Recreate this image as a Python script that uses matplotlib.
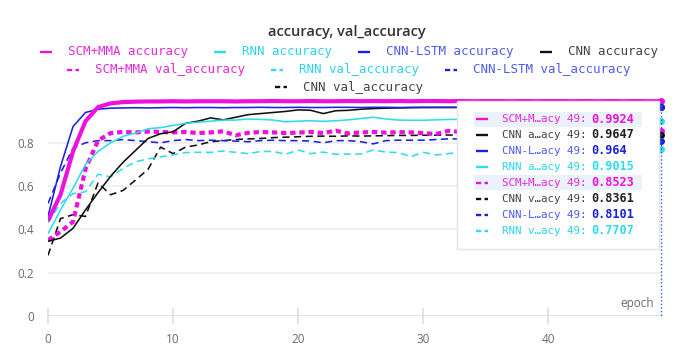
import matplotlib
matplotlib.use("Agg")
import matplotlib.pyplot as plt
from matplotlib.lines import Line2D
from matplotlib.patches import Rectangle

W, H = 686, 352

# ---- data ----
epochs = list(range(50))

scm_acc = [0.44, 0.56, 0.76, 0.90, 0.965, 0.982, 0.988, 0.990, 0.991, 0.991,
           0.992, 0.991, 0.992, 0.992, 0.992, 0.991, 0.992, 0.992, 0.993, 0.992,
           0.992, 0.993, 0.992, 0.992, 0.993, 0.992, 0.993, 0.992, 0.993, 0.992,
           0.993, 0.993, 0.992, 0.993, 0.992, 0.993, 0.993, 0.992, 0.993, 0.992,
           0.993, 0.993, 0.992, 0.993, 0.992, 0.993, 0.992, 0.993, 0.992, 0.9924]
lstm_acc = [0.46, 0.69, 0.875, 0.94, 0.955, 0.960, 0.961, 0.962, 0.961, 0.962,
            0.963, 0.962, 0.963, 0.963, 0.962, 0.963, 0.963, 0.964, 0.963, 0.963,
            0.964, 0.963, 0.963, 0.964, 0.964, 0.963, 0.964, 0.964, 0.963, 0.964,
            0.964, 0.964, 0.963, 0.964, 0.964, 0.965, 0.964, 0.964, 0.963, 0.964,
            0.965, 0.964, 0.964, 0.965, 0.964, 0.964, 0.965, 0.964, 0.964, 0.964]
cnn_acc = [0.345, 0.36, 0.405, 0.49, 0.57, 0.645, 0.71, 0.765, 0.82, 0.842,
           0.851, 0.89, 0.90, 0.915, 0.906, 0.918, 0.93, 0.935, 0.94, 0.945,
           0.952, 0.95, 0.935, 0.948, 0.95, 0.955, 0.958, 0.96, 0.961, 0.962,
           0.963, 0.963, 0.964, 0.963, 0.964, 0.965, 0.964, 0.963, 0.964, 0.965,
           0.964, 0.965, 0.964, 0.963, 0.965, 0.964, 0.965, 0.964, 0.965, 0.9647]
rnn_acc = [0.38, 0.49, 0.59, 0.70, 0.76, 0.80, 0.83, 0.845, 0.865, 0.87,
           0.88, 0.89, 0.895, 0.90, 0.905, 0.905, 0.91, 0.908, 0.905, 0.897,
           0.90, 0.902, 0.899, 0.902, 0.906, 0.912, 0.918, 0.91, 0.905, 0.904,
           0.904, 0.906, 0.908, 0.908, 0.905, 0.903, 0.906, 0.904, 0.902, 0.905,
           0.903, 0.901, 0.904, 0.902, 0.900, 0.903, 0.901, 0.899, 0.902, 0.9015]
scm_val = [0.35, 0.39, 0.435, 0.68, 0.81, 0.845, 0.85, 0.848, 0.852, 0.85,
           0.848, 0.85, 0.845, 0.848, 0.853, 0.835, 0.846, 0.85, 0.848, 0.845,
           0.847, 0.85, 0.845, 0.856, 0.843, 0.848, 0.85, 0.847, 0.849, 0.848,
           0.845, 0.84, 0.855, 0.85, 0.848, 0.851, 0.846, 0.85, 0.849, 0.853,
           0.847, 0.85, 0.852, 0.848, 0.851, 0.849, 0.853, 0.85, 0.851, 0.8523]
lstm_val = [0.52, 0.66, 0.775, 0.80, 0.81, 0.81, 0.815, 0.81, 0.805, 0.80,
            0.81, 0.815, 0.81, 0.812, 0.81, 0.808, 0.805, 0.81, 0.812, 0.81,
            0.81, 0.808, 0.80, 0.81, 0.81, 0.805, 0.795, 0.81, 0.812, 0.812,
            0.812, 0.815, 0.818, 0.818, 0.815, 0.812, 0.814, 0.81, 0.813, 0.815,
            0.811, 0.813, 0.809, 0.812, 0.814, 0.81, 0.812, 0.811, 0.809, 0.8101]
cnn_val = [0.28, 0.45, 0.468, 0.46, 0.615, 0.56, 0.58, 0.628, 0.678, 0.78,
           0.75, 0.78, 0.79, 0.805, 0.81, 0.815, 0.818, 0.82, 0.824, 0.826,
           0.828, 0.83, 0.831, 0.83, 0.832, 0.831, 0.832, 0.833, 0.834, 0.834,
           0.835, 0.835, 0.836, 0.835, 0.836, 0.834, 0.836, 0.837, 0.835, 0.836,
           0.837, 0.835, 0.836, 0.838, 0.836, 0.835, 0.837, 0.836, 0.835, 0.8361]
rnn_val = [0.43, 0.52, 0.565, 0.574, 0.655, 0.642, 0.682, 0.712, 0.726, 0.735,
           0.744, 0.755, 0.756, 0.756, 0.762, 0.756, 0.75, 0.76, 0.76, 0.747,
           0.767, 0.75, 0.757, 0.747, 0.748, 0.748, 0.767, 0.757, 0.755, 0.736,
           0.756, 0.744, 0.75, 0.756, 0.752, 0.76, 0.755, 0.748, 0.758, 0.762,
           0.754, 0.76, 0.765, 0.758, 0.762, 0.768, 0.76, 0.764, 0.768, 0.7707]

x_ticks = [0, 10, 20, 30, 40]
y_ticks = [0, 0.2, 0.4, 0.6, 0.8]
y_tick_labels = ["0", "0.2", "0.4", "0.6", "0.8"]

MAGENTA = "#ee11dd"
CYAN = "#2fdcee"
BLUE = "#1a22dd"
BLACK = "#111111"
TEXT_COL = {MAGENTA: "#e52ad8", CYAN: "#2dd3ec", BLUE: "#4f5cee", BLACK: "#444444"}

# label -> (values, colour, is_val)
series = {
    "SCM+MMA accuracy": (scm_acc, MAGENTA, False),
    "RNN accuracy": (rnn_acc, CYAN, False),
    "CNN-LSTM accuracy": (lstm_acc, BLUE, False),
    "CNN accuracy": (cnn_acc, BLACK, False),
    "SCM+MMA val_accuracy": (scm_val, MAGENTA, True),
    "RNN val_accuracy": (rnn_val, CYAN, True),
    "CNN-LSTM val_accuracy": (lstm_val, BLUE, True),
    "CNN val_accuracy": (cnn_val, BLACK, True),
}
legend_rows = [
    ["SCM+MMA accuracy", "RNN accuracy", "CNN-LSTM accuracy", "CNN accuracy"],
    ["SCM+MMA val_accuracy", "RNN val_accuracy", "CNN-LSTM val_accuracy"],
    ["CNN val_accuracy"],
]
tooltip_order = ["SCM+MMA accuracy", "CNN accuracy", "CNN-LSTM accuracy", "RNN accuracy",
                 "SCM+MMA val_accuracy", "CNN val_accuracy", "CNN-LSTM val_accuracy",
                 "RNN val_accuracy"]
draw_order = ["CNN val_accuracy", "RNN val_accuracy", "CNN-LSTM val_accuracy",
              "SCM+MMA val_accuracy", "CNN accuracy", "RNN accuracy",
              "CNN-LSTM accuracy", "SCM+MMA accuracy"]

HANDLE_DASH = (0, (2.2, 1.4))


def fx(x):
    return x / W


def fy(y):
    return 1 - y / H


fig = plt.figure(figsize=(W / 100, H / 100), dpi=100)
ax = fig.add_axes([fx(48), fy(316), 614 / W, 216.5 / H])

for name in draw_order:
    vals, col, is_val = series[name]
    thick = col == MAGENTA
    lw = 3.0 if thick else 1.15
    if is_val:
        ls = (0, (1.3, 0.9)) if thick else (0, (4.5, 2.8))
    else:
        ls = "-"
    ax.plot(epochs, vals, color=col, lw=lw, ls=ls, zorder=3 if not is_val else 2,
            solid_capstyle="butt", dash_capstyle="butt")

ax.set_xlim(0, 49.08)
ax.set_ylim(0, 1.0)

# hover line (figure coords, stops at the zero line) + markers at last epoch
last = epochs[-1]
hx = ax.transData.transform((last, 0))[0]
fig.add_artist(Line2D([hx / W, hx / W], [fy(101), fy(316)], color="#2a5bd7", lw=1,
                      ls=(0, (1, 1.6)), transform=fig.transFigure, zorder=4))
for name in tooltip_order:
    vals, col, _ = series[name]
    ax.plot(last, vals[-1], "o", ms=4, color=col, mec=col, clip_on=False, zorder=6)

for s in ax.spines.values():
    s.set_visible(False)
for v in y_ticks[1:]:
    ax.axhline(v, color="#efefef", lw=1.3, zorder=0)
ax.axhline(0, color="#e2e2e2", lw=2.2, zorder=1)
ax.set_xticks(x_ticks)
ax.set_yticks(y_ticks)
ax.set_yticklabels(y_tick_labels)
ax.tick_params(axis="y", length=0, pad=10, labelsize=8.5, labelcolor="#6b6b6b")
ax.tick_params(axis="x", direction="inout", length=11, width=1.2, color="#dedede",
               pad=7, labelsize=8.5, labelcolor="#6b6b6b")
for lab in ax.get_xticklabels() + ax.get_yticklabels():
    lab.set_family("Open Sans")

fig.text(fx(654), fy(304), "epoch", ha="right", va="center", fontsize=8.5,
         color="#6b6b6b", family="Open Sans")

# title
fig.text(fx(347), fy(32), "accuracy, val_accuracy", ha="center", va="center",
         fontsize=10.5, fontweight="semibold", color="#333333", family="Open Sans")

# legend (centered flow rows)
renderer = fig.canvas.get_renderer()
row_y = [52, 70, 87]
HANDLE, GAP, SPACING = 12, 16, 26
for names, ry in zip(legend_rows, row_y):
    texts = []
    for name in names:
        col = series[name][1]
        t = fig.text(0, fy(ry), name, ha="left", va="center", fontsize=9,
                     family="DejaVu Sans Mono", color=TEXT_COL[col])
        texts.append(t)
    widths = [t.get_window_extent(renderer).width for t in texts]
    total = sum(HANDLE + GAP + w for w in widths) + SPACING * (len(names) - 1)
    x = 349 - total / 2
    for name, t, w in zip(names, texts, widths):
        _, col, is_val = series[name]
        ls = HANDLE_DASH if is_val else "-"
        fig.add_artist(Line2D([fx(x), fx(x + HANDLE)], [fy(ry), fy(ry)], color=col,
                              lw=1.7, ls=ls, transform=fig.transFigure,
                              dash_capstyle="butt", solid_capstyle="butt"))
        t.set_x(fx(x + HANDLE + GAP))
        x += HANDLE + GAP + w + SPACING

# tooltip box
fig.add_artist(Rectangle((fx(457), fy(249)), 202 / W, 148 / H, transform=fig.transFigure,
                         facecolor="white", edgecolor="#e4e4e4", lw=1, zorder=10))
for i, name in enumerate(tooltip_order):
    vals, col, is_val = series[name]
    ry = 119 + 16 * i
    if name.startswith("SCM"):
        fig.add_artist(Rectangle((fx(474), fy(ry + 7.5)), 168 / W, 15 / H,
                                 transform=fig.transFigure, facecolor="#eaf1fb",
                                 edgecolor="none", zorder=11))
    ls = HANDLE_DASH if is_val else "-"
    fig.add_artist(Line2D([fx(476), fx(488)], [fy(ry), fy(ry)], color=col, lw=1.7, ls=ls,
                          transform=fig.transFigure, zorder=12,
                          dash_capstyle="butt", solid_capstyle="butt"))
    short = name[:5] + "\u2026" + name[-3:] + " 49:"
    fig.text(fx(502), fy(ry), short, ha="left", va="center", fontsize=7.8,
             family="DejaVu Sans Mono", color=TEXT_COL[col], zorder=12)
    val_col = "#222222" if col == BLACK else col
    fig.text(fx(591), fy(ry), f"{vals[-1]:.4g}", ha="left", va="center", fontsize=8.6,
             family="DejaVu Sans Mono", fontweight="bold", color=val_col, zorder=12)

fig.savefig("out.png", dpi=100)
